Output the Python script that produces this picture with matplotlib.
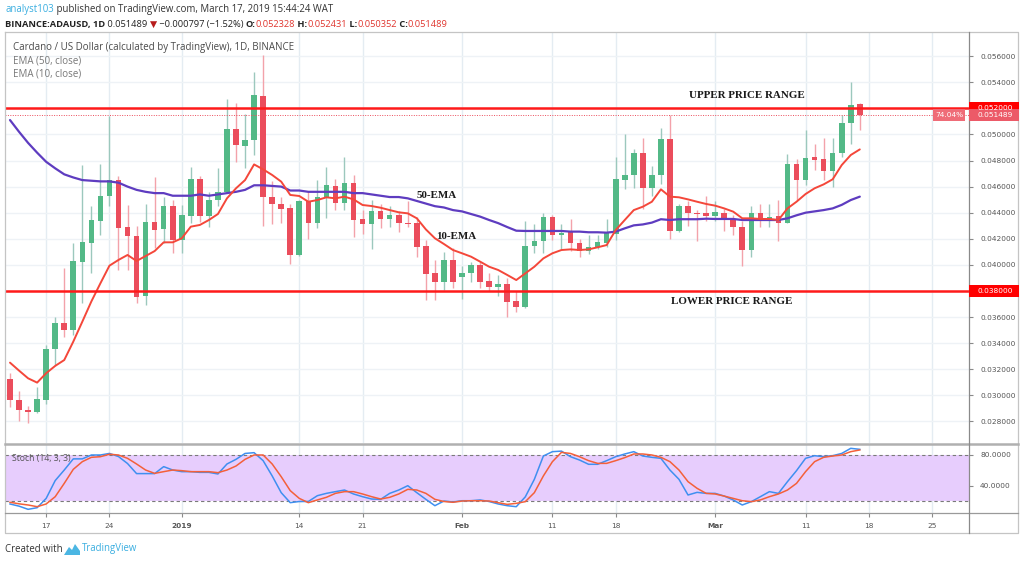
import matplotlib
matplotlib.use('Agg')
import matplotlib.pyplot as plt
import matplotlib.transforms as mtransforms
from matplotlib.patches import Rectangle, Polygon
from matplotlib.lines import Line2D
from matplotlib.ticker import FixedLocator, FixedFormatter

# ---------------- data (daily ADAUSD, Dec 13 2018 .. Mar 17 2019) ----------------
day_index = list(range(95))
opens = [0.03122, 0.02967, 0.0289, 0.02872, 0.02967, 0.03354, 0.03551, 0.0350, 0.04025, 0.0417,
         0.04336, 0.04525, 0.04651, 0.0429, 0.04222, 0.0376, 0.04325, 0.04272, 0.04455, 0.0419,
         0.04375, 0.04656, 0.04375, 0.04497, 0.0456, 0.05038, 0.0491, 0.04956, 0.05296, 0.04523,
         0.0447, 0.04433, 0.04077, 0.04489, 0.04318, 0.04523, 0.04607, 0.04472, 0.0463, 0.0435,
         0.04313, 0.04413, 0.04352, 0.04382, 0.0432, 0.04323, 0.04145, 0.03935, 0.03866, 0.04038,
         0.03905, 0.03935, 0.03999, 0.03877, 0.03828, 0.03854, 0.0372, 0.0368, 0.04147, 0.04183,
         0.0437, 0.0423, 0.04255, 0.04165, 0.0411, 0.04135, 0.04165, 0.04237, 0.04651, 0.04689,
         0.04855, 0.04587, 0.04689, 0.04962, 0.0426, 0.04454, 0.0440, 0.04395, 0.04375, 0.0440,
         0.04349, 0.04293, 0.04114, 0.0440, 0.04349, 0.04375, 0.04324, 0.04773, 0.04651, 0.0483,
         0.04811, 0.04722, 0.04855, 0.05085, 0.052328]
highs = [0.03172, 0.0303, 0.0292, 0.03068, 0.03386, 0.0360, 0.03974, 0.0417, 0.04767, 0.0445,
         0.0477, 0.0514, 0.0468, 0.0446, 0.04295, 0.0447, 0.0467, 0.0452, 0.0450, 0.0446,
         0.0475, 0.0468, 0.0456, 0.0474, 0.0527, 0.0524, 0.0516, 0.0548, 0.0561, 0.0464,
         0.0452, 0.0447, 0.0450, 0.0457, 0.0465, 0.0475, 0.0466, 0.0483, 0.0469, 0.0442,
         0.0450, 0.0447, 0.0445, 0.0441, 0.0449, 0.0437, 0.0419, 0.0404, 0.0410, 0.0413,
         0.0399, 0.0402, 0.0402, 0.0394, 0.0392, 0.0390, 0.0380, 0.0434, 0.0431, 0.0440,
         0.0438, 0.0431, 0.0435, 0.0420, 0.0423, 0.0423, 0.0435, 0.0483, 0.0500, 0.0489,
         0.0497, 0.0476, 0.0505, 0.0515, 0.0447, 0.0449, 0.0442, 0.0453, 0.0449, 0.0443,
         0.0438, 0.0434, 0.0445, 0.0447, 0.0447, 0.0450, 0.0485, 0.0481, 0.0503, 0.0493,
         0.0497, 0.0497, 0.0515, 0.0540, 0.052431]
lows = [0.02908, 0.0280, 0.0279, 0.02865, 0.02934, 0.0323, 0.0345, 0.0346, 0.03705, 0.0394,
        0.0423, 0.0445, 0.0396, 0.0396, 0.03705, 0.0369, 0.0413, 0.0417, 0.0409, 0.0409,
        0.0432, 0.0433, 0.0429, 0.0445, 0.0455, 0.0479, 0.0474, 0.0484, 0.0430, 0.0431,
        0.0432, 0.0401, 0.0407, 0.0420, 0.0428, 0.0436, 0.0442, 0.0442, 0.0421, 0.0424,
        0.0412, 0.0428, 0.0429, 0.0425, 0.0429, 0.0406, 0.0373, 0.0373, 0.0381, 0.0382,
        0.0374, 0.0387, 0.0382, 0.0380, 0.0376, 0.0360, 0.0364, 0.03667, 0.0409, 0.0409,
        0.0419, 0.0412, 0.0411, 0.0406, 0.0408, 0.0412, 0.0414, 0.0419, 0.0458, 0.0459,
        0.0443, 0.0453, 0.0462, 0.0420, 0.0425, 0.0430, 0.0418, 0.0434, 0.0434, 0.0426,
        0.0423, 0.0399, 0.0406, 0.0429, 0.0429, 0.0418, 0.0432, 0.0450, 0.0461, 0.0473,
        0.0465, 0.0460, 0.0483, 0.0493, 0.050352]
closes = [0.02967, 0.02885, 0.02875, 0.02972, 0.03354, 0.03551, 0.0350, 0.0403, 0.04177, 0.04344,
          0.0453, 0.04651, 0.04285, 0.04218, 0.03756, 0.04325, 0.04267, 0.04454, 0.0419, 0.04382,
          0.04656, 0.04375, 0.04497, 0.0456, 0.05038, 0.04918, 0.04956, 0.05304, 0.04523, 0.04464,
          0.04428, 0.04077, 0.04489, 0.04318, 0.04523, 0.04612, 0.04472, 0.0463, 0.04345, 0.04313,
          0.04413, 0.04352, 0.04382, 0.04318, 0.0431, 0.0414, 0.03928, 0.03866, 0.04038, 0.03866,
          0.0394, 0.03999, 0.03872, 0.03828, 0.03854, 0.03718, 0.0368, 0.04147, 0.04183, 0.04364,
          0.0423, 0.04247, 0.04165, 0.0411, 0.0414, 0.04173, 0.04242, 0.04656, 0.04689, 0.04855,
          0.04587, 0.04689, 0.04962, 0.0426, 0.04454, 0.04395, 0.0439, 0.04377, 0.04408, 0.04344,
          0.04288, 0.04114, 0.0440, 0.04357, 0.0437, 0.04324, 0.04773, 0.04651, 0.04817, 0.04804,
          0.04722, 0.0486, 0.0509, 0.052286, 0.051489]
ema50 = [0.0511, 0.0502, 0.04935, 0.0486, 0.0479, 0.0474, 0.04694, 0.0467, 0.0465, 0.04645,
         0.0464, 0.0464, 0.0463, 0.0460, 0.04575, 0.0456, 0.0455, 0.0455, 0.0453, 0.0453,
         0.0453, 0.0454, 0.0453, 0.0454, 0.0455, 0.0456, 0.04575, 0.0461, 0.0461, 0.04605,
         0.0460, 0.0457, 0.0457, 0.0456, 0.0456, 0.0456, 0.0456, 0.0456, 0.0455, 0.0455,
         0.0454, 0.0453, 0.0452, 0.0452, 0.0451, 0.0449, 0.0447, 0.0445, 0.0444, 0.0442,
         0.0441, 0.0439, 0.0437, 0.04344, 0.0432, 0.0429, 0.04262, 0.0426, 0.0426, 0.0426,
         0.0426, 0.0426, 0.04255, 0.04255, 0.0425, 0.0425, 0.04247, 0.04255, 0.0428, 0.04303,
         0.0431, 0.04324, 0.0435, 0.04344, 0.0435, 0.0435, 0.0435, 0.04354, 0.04352, 0.04352,
         0.04352, 0.04344, 0.04344, 0.04344, 0.04344, 0.04344, 0.04357, 0.0438, 0.0440, 0.0441,
         0.0442, 0.04433, 0.0446, 0.04497, 0.04523]
ema10 = [0.03251, 0.0319, 0.03131, 0.03098, 0.0317, 0.03226, 0.03271, 0.03412, 0.03565, 0.0372,
         0.03859, 0.03994, 0.04038, 0.04076, 0.0403, 0.04068, 0.04106, 0.04173, 0.04173, 0.04204,
         0.04293, 0.04306, 0.04344, 0.0439, 0.0451, 0.04587, 0.0465, 0.0477, 0.04732, 0.04689,
         0.04638, 0.04536, 0.04528, 0.04484, 0.04497, 0.04518, 0.0451, 0.04523, 0.04502, 0.04459,
         0.04451, 0.04438, 0.0442, 0.04403, 0.04395, 0.04357, 0.04272, 0.04204, 0.0416, 0.04114,
         0.04089, 0.04063, 0.04025, 0.03986, 0.03961, 0.03923, 0.03884, 0.03935, 0.03986, 0.0405,
         0.04089, 0.04114, 0.04119, 0.04114, 0.04119, 0.04135, 0.04152, 0.04267, 0.04344, 0.0442,
         0.04446, 0.04484, 0.04579, 0.04523, 0.04518, 0.04502, 0.04484, 0.04467, 0.04454, 0.04433,
         0.04408, 0.04357, 0.04357, 0.04352, 0.04352, 0.04344, 0.04433, 0.04484, 0.04543, 0.04587,
         0.04617, 0.04656, 0.04765, 0.04842, 0.04885]
stoch_k = [16.8, 14, 9.9, 12, 24, 47, 60.6, 75, 75, 80, 80, 82, 78, 69, 56, 56, 56, 65, 60.6, 58.5,
           58.5, 57.6, 57.6, 55.5, 68.4, 74.4, 82, 83, 72.7, 53, 31.4, 18.5, 20, 20, 27.5, 30.5, 32.7,
           34.8, 29.7, 26.2, 23.2, 22.8, 30.5, 34.8, 40.4, 31.4, 22.8, 14.6, 20.6, 19.4, 21, 21, 22,
           20, 16.8, 14.6, 13.3, 26, 48.6, 78.7, 84.3, 85, 77.8, 73.5, 68, 68, 72.7, 77.8, 81.3, 84.3,
           78.7, 77, 75.7, 60.6, 48.6, 28.4, 31.8, 30.5, 30.5, 27, 22, 15.5, 19.8, 26.2, 32.7, 30.5,
           45.6, 59.8, 75.7, 79.1, 77.8, 79.1, 82, 88.6, 87.3]
stoch_d = [19, 17, 15.5, 13.3, 16.8, 26.2, 43.4, 61.5, 71.4, 77, 77.8, 81, 80, 75.7, 68.4, 60.6, 56.3,
           58.5, 60.6, 59.8, 58.5, 58.5, 58.5, 57.2, 60.6, 65.8, 74.4, 80, 80, 68.4, 52, 34, 24, 18.5,
           22, 25.4, 30.5, 32.7, 32.7, 29.7, 26.2, 23.2, 25.4, 29.7, 35.7, 34.8, 30.5, 22.8, 20, 19,
           20.6, 21, 21, 20.6, 18.5, 16.3, 17.6, 19.8, 31.4, 53, 71.4, 83.4, 82, 77.8, 72.7, 69.2,
           69.2, 72.7, 76.6, 81.3, 81.3, 80, 77, 71.4, 60.6, 45.6, 37, 30.5, 29.7, 27, 24, 21, 19.8,
           22, 26.2, 29.7, 34.8, 43.4, 58.5, 71.4, 77, 78.7, 80, 84.3, 86.5]
price_ticks = [0.028, 0.030, 0.032, 0.034, 0.036, 0.038, 0.040, 0.042,
               0.044, 0.046, 0.048, 0.050, 0.052, 0.054, 0.056]
date_tick_pos = [4, 11, 19, 32, 39, 50, 60, 67, 78, 88, 95, 102]
date_tick_labels = ['17', '24', '2019', '14', '21', 'Feb', '11', '18', 'Mar', '11', '18', '25']
bold_date_labels = ['2019', 'Feb', 'Mar']
stoch_levels = [80, 20]
stoch_ticks = [80, 40]
upper_range = 0.052
lower_range = 0.038
last_price = 0.051489
pct_label = '74.04%'

# ---------------- layout helpers ----------------
W, H = 1024, 563
fig = plt.figure(figsize=(W / 100, H / 100), dpi=100)
fig.patch.set_facecolor('white')
renderer = fig.canvas.get_renderer()


def fx(px):
    return px / W


def fy(py):
    return 1 - py / H


SANS = ['Open Sans', 'DejaVu Sans']


def text_width(s, size, family, weight='normal'):
    t = fig.text(0, 0, s, fontsize=size, family=family, weight=weight)
    w = t.get_window_extent(renderer).width
    t.remove()
    return w


def piece_width(s, size, family, weight):
    return text_width('|' + s + '|', size, family, weight) - text_width('||', size, family, weight)


def fit_size(pieces, x0, x1, family):
    base = 10.0
    tot = sum(piece_width(s, base, family, w) for s, c, w in pieces)
    return base * (x1 - x0) / tot


def rich_line(pieces, x0, yc, size, family):
    x = x0
    for s, c, w in pieces:
        fig.text(fx(x), fy(yc), s, fontsize=size, family=family, weight=w, color=c,
                 va='center', ha='left')
        x += piece_width(s, size, family, w)


# ---------------- axes ----------------
X0, X1 = 5, 969
ax = fig.add_axes([fx(X0), fy(443), fx(X1) - fx(X0), fy(32) - fy(443)])
axs = fig.add_axes([fx(X0), fy(513), fx(X1) - fx(X0), fy(445) - fy(513)])

xlim = (-0.553, 106.08)
ax.set_xlim(*xlim)
ax.set_ylim(0.026352, 0.057847)
axs.set_xlim(*xlim)
axs.set_ylim(5.16, 92.9)

for a in (ax, axs):
    a.set_facecolor('white')
    for sp in a.spines.values():
        sp.set_visible(False)
    for xp in date_tick_pos:
        a.axvline(xp, color='#e4ecf2', lw=1.0, zorder=0)

for p in price_ticks:
    ax.axhline(p, color='#eef2f6', lw=1.0, zorder=0)

# candles
up = [c >= o for o, c in zip(opens, closes)]
body_col = ['#53b987' if u else '#eb4d5c' for u in up]
wick_col = ['#9cc8bd' if u else '#f3a2aa' for u in up]
bottoms = [min(o, c) for o, c in zip(opens, closes)]
heights = [max(abs(c - o), 0.00008) for o, c in zip(opens, closes)]
ax.vlines(day_index, lows, highs, colors=wick_col, lw=1.0, zorder=2)
ax.bar(day_index, heights, bottom=bottoms, width=0.62, color=body_col, lw=0, zorder=3)

# EMAs
ax.plot(day_index, ema50, color='#5e3cc0', lw=1.6, zorder=4, solid_capstyle='round')
ax.plot(day_index, ema10, color='#f4473a', lw=1.4, zorder=4, solid_capstyle='round')

# range lines & last price
ax.axhline(upper_range, color='#ff1a1a', lw=1.8, zorder=5)
ax.axhline(lower_range, color='#ff1a1a', lw=1.8, zorder=5)
ax.axhline(last_price, color='#eb4d5c', lw=0.7, ls=(0, (1, 1.5)), zorder=5)

# right price axis
ax.yaxis.set_major_locator(FixedLocator(price_ticks))
ax.yaxis.set_major_formatter(FixedFormatter(
    ['' if abs(p - upper_range) < 1e-9 or abs(p - lower_range) < 1e-9 else '%.6f' % p
     for p in price_ticks]))
ax.tick_params(axis='y', left=False, labelleft=False, right=True, labelright=True,
               length=3, width=0.8, color='#8a8a8a', labelcolor='#555555', labelsize=5.3, pad=5)
ax.tick_params(axis='x', bottom=False, labelbottom=False)
for lab in ax.get_yticklabels():
    lab.set_family('DejaVu Sans')

# stoch pane
axs.fill_between(xlim, stoch_levels[1], stoch_levels[0], color='#e7cdfd', lw=0, zorder=1)
for lv in stoch_levels:
    axs.axhline(lv, color='#7a7a7a', lw=0.8, ls=(0, (3, 2.5)), zorder=2)
axs.plot(day_index, stoch_k, color='#3f8ff0', lw=1.1, zorder=3)
axs.plot(day_index, stoch_d, color='#f4603a', lw=1.1, zorder=4)
axs.yaxis.set_major_locator(FixedLocator(stoch_ticks))
axs.yaxis.set_major_formatter(FixedFormatter(['%.4f' % v for v in stoch_ticks]))
axs.tick_params(axis='y', left=False, labelleft=False, right=True, labelright=True,
                length=3, width=0.8, color='#8a8a8a', labelcolor='#555555', labelsize=5.3, pad=5)
axs.xaxis.set_major_locator(FixedLocator(date_tick_pos))
axs.xaxis.set_major_formatter(FixedFormatter(date_tick_labels))
axs.tick_params(axis='x', length=3, width=0.8, color='#8a8a8a', labelcolor='#555555',
                labelsize=5.3, pad=4)
for lab in axs.get_xticklabels():
    lab.set_family('DejaVu Sans')
    if lab.get_text() in bold_date_labels:
        lab.set_weight('bold')
for lab in axs.get_yticklabels():
    lab.set_family('DejaVu Sans')

fig.text(fx(12), fy(458), 'Stoch (14, 3, 3)', fontsize=6.2, family=SANS, color='#555555',
         va='center', ha='left')

# frame lines
def fline(xs, ys, color, lw):
    fig.add_artist(Line2D([fx(v) for v in xs], [fy(v) for v in ys], color=color, lw=lw,
                          transform=fig.transFigure, zorder=10))

fline([5, 1018, 1018, 5, 5], [32, 32, 533, 533, 32], '#c4c4c4', 0.9)
fline([5, 1018], [444, 444], '#b0b0b0', 1.8)
fline([5, 1018], [513, 513], '#9a9a9a', 0.9)
fline([969, 969], [32, 533], '#8a8a8a', 0.9)

# price label boxes on the right axis
fig.canvas.draw()


def data_to_py(val):
    _, yd = ax.transData.transform((0, val))
    return H - yd


def price_box(val, text, fc, x0=969, x1=1019, h=12.5):
    yc = data_to_py(val)
    fig.add_artist(Rectangle((fx(x0), fy(yc + h / 2)), fx(x1) - fx(x0), h / H,
                             transform=fig.transFigure, facecolor=fc, edgecolor='none', zorder=11))
    fig.text(fx(x0 + 8), fy(yc), text, fontsize=5.3, family='DejaVu Sans', color='white',
             va='center', ha='left', zorder=12)


price_box(upper_range, '%.6f' % upper_range, '#ff0000')
price_box(lower_range, '%.6f' % lower_range, '#ff0000')
price_box(last_price, '%.6f' % last_price, '#ec5a68')
yc_last = data_to_py(last_price)
fig.add_artist(Rectangle((fx(933), fy(yc_last + 6)), fx(965) - fx(933), 12 / H,
                         transform=fig.transFigure, facecolor='#ef6c78', edgecolor='none', zorder=11))
fig.text(fx(949), fy(yc_last), pct_label, fontsize=5.3, family='DejaVu Sans', color='white',
         va='center', ha='center', zorder=12)

# annotations
SERIF = 'Liberation Serif'
ann_size = fit_size([('UPPER PRICE RANGE', '', 'bold')], 689, 804, SERIF)
fig.text(fx(689), fy(95), 'UPPER PRICE RANGE', fontsize=ann_size, family=SERIF, weight='bold',
         color='#1a1a1a', va='center', ha='left')
fig.text(fx(671), fy(301), 'LOWER PRICE RANGE', fontsize=ann_size, family=SERIF, weight='bold',
         color='#1a1a1a', va='center', ha='left')
fig.text(fx(417), fy(196), '50-EMA', fontsize=ann_size, family=SERIF, weight='bold',
         color='#1a1a1a', va='center', ha='left')
fig.text(fx(436), fy(236), '10-EMA', fontsize=ann_size, family=SERIF, weight='bold',
         color='#1a1a1a', va='center', ha='left')

# header
red = '#e0362f'
dark = '#222222'
line1 = [('analyst103', '#3aaee0', 'normal'),
         (' published on TradingView.com, March 17, 2019 15:44:24 WAT', '#333333', 'normal')]
s1 = fit_size(line1, 5, 333, SANS)
rich_line(line1, 5, 9.5, s1, SANS)
line2 = [('BINANCE:ADAUSD, 1D', dark, 'bold'), (' 0.051489 ', dark, 'normal'),
         ('\u25BC', '#b71c1c', 'normal'), (' \u22120.000797 (\u22121.52%) ', dark, 'normal'),
         ('O:', dark, 'bold'), ('0.052328', red, 'normal'),
         (' H:', dark, 'bold'), ('0.052431', red, 'normal'),
         (' L:', dark, 'bold'), ('0.050352', red, 'normal'),
         (' C:', dark, 'bold'), ('0.051489', red, 'normal')]
s2 = fit_size(line2, 5, 444, SANS)
rich_line(line2, 5, 24.5, s2, SANS)

# legend inside the chart
leg1 = [('Cardano / US Dollar (calculated by TradingView), 1D, BINANCE', '#4a4a4a', 'normal')]
s3 = fit_size(leg1, 12.7, 295, SANS)
rich_line(leg1, 12.7, 47.5, s3, SANS)
rich_line([('EMA (50, close)', '#777777', 'normal')], 12.7, 61, s3, SANS)
rich_line([('EMA (10, close)', '#777777', 'normal')], 12.7, 73.5, s3, SANS)

# footer
foot = [('Created with', '#333333', 'normal')]
s4 = fit_size(foot, 5, 62, SANS)
rich_line(foot, 5, 549, s4, SANS)
logo = [(64, 555), (69, 547), (72, 550), (75, 544), (80, 551), (80, 555)]
fig.add_artist(Polygon([(fx(a), fy(b)) for a, b in logo], closed=True, transform=fig.transFigure,
                       facecolor='#4bb6e3', edgecolor='none'))
rich_line([('TradingView', '#3aaee0', 'normal')], 82, 549, s4, SANS)

fig.savefig('out.png', dpi=100, facecolor='white')
